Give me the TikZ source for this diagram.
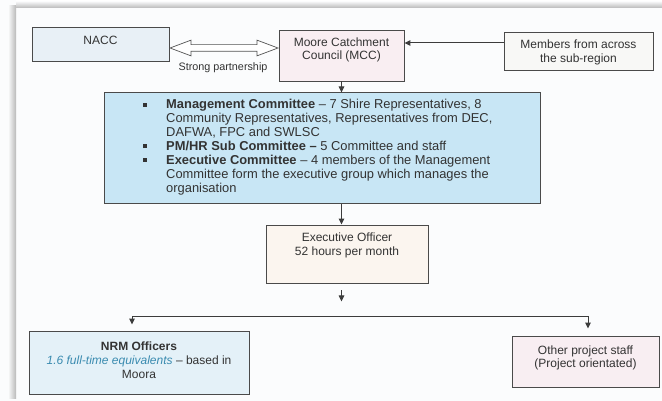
\documentclass[tikz,border=0pt]{standalone}
\usepackage{fontspec}
\setmainfont{Liberation Sans}
\usetikzlibrary{arrows.meta,shapes.arrows,calc}
\definecolor{paper}{HTML}{FBFCFD}
\definecolor{ink}{HTML}{333333}
\definecolor{boxline}{HTML}{4A4A4A}
\definecolor{lineclr}{HTML}{3C3C3C}
\definecolor{naccfill}{HTML}{E8F0F6}
\definecolor{mccfill}{HTML}{F9EEF2}
\definecolor{memfill}{HTML}{F8F8F6}
\definecolor{mgmtfill}{HTML}{C8E6F5}
\definecolor{execfill}{HTML}{FBF5EF}
\definecolor{nrmfill}{HTML}{E4F1F8}
\definecolor{otherfill}{HTML}{F8EEF2}
\definecolor{tealtext}{HTML}{3A8BB0}
\newcommand{\mybul}{\hspace{2pt}\rule[2.4pt]{4pt}{4pt}}
\begin{document}
\begin{tikzpicture}[x=1pt,y=-1pt,
  box/.style={draw=boxline, line width=0.9pt, inner sep=0pt},
  txt/.style={align=center, font=\fontsize{12}{14}\selectfont, text=ink, inner sep=0pt},
  arr/.style={draw=lineclr, line width=1pt, -{Triangle[length=6pt,width=5.5pt]}},
  plain/.style={draw=lineclr, line width=1pt},
  dblarr/.style={double arrow, draw=gray!65!black, fill=white, line width=0.7pt,
    inner xsep=0pt, inner ysep=3pt, minimum height=108pt,
    double arrow head extend=4.5pt, double arrow tip angle=41, double arrow head indent=0pt}
]
\useasboundingbox (0,0) rectangle (662,401);
\fill[paper] (0,0) rectangle (662,401);
% scanned page edge shadow
\shade[left color=paper, right color=gray!55] (8,6) rectangle (16,398);
\shade[top color=paper, bottom color=gray!55] (16,1) rectangle (662,8);

% boxes
\node[box, fill=naccfill, minimum width=137pt, minimum height=34pt] (nacc) at (100.5,44) {};
\node[txt] (nacct) at (100.5,40) {NACC};

\node[box, fill=mccfill, minimum width=125pt, minimum height=51pt] (mcc) at (341.5,55.5) {};
\node[txt, font=\fontsize{12}{13}\selectfont] (mcct) at (341.5,49.5) {Moore Catchment\\Council (MCC)};

\node[box, fill=memfill, minimum width=149pt, minimum height=38pt] (members) at (578.5,51) {};
\node[txt] (memt) at (578.5,52.5) {Members from across\\the sub-region};

\node[dblarr] (partner) at (224,48) {};
\node[txt, font=\fontsize{10.8}{13}\selectfont] (partnert) at (223,68) {Strong partnership};

\node[box, fill=mgmtfill, line width=1pt, minimum width=436pt, minimum height=111pt] (mgmt) at (322,148.5) {};
\node[anchor=base west, inner sep=0pt, text=ink, font=\fontsize{12.9}{13.85}\selectfont] (mgmtt) at (141,109)
{\begin{tabular}[t]{@{}p{25pt}@{}l@{}}
\mybul & \textbf{Management Committee} -- 7 Shire Representatives, 8\\
 & Community Representatives, Representatives from DEC,\\
 & DAFWA, FPC and SWLSC\\
\mybul & \textbf{PM/HR Sub Committee --} 5 Committee and staff\\
\mybul & \textbf{Executive Committee} -- 4 members of the Management\\
 & Committee form the executive group which manages the\\
 & organisation
\end{tabular}};

\node[box, fill=execfill, minimum width=162pt, minimum height=58pt] (exec) at (347,254) {};
\node[txt] (exect) at (347,245) {Executive Officer\\52 hours per month};

\node[box, fill=nrmfill, minimum width=220pt, minimum height=63pt] (nrm) at (139,362.5) {};
\node[txt] (nrmt) at (139,360) {\textbf{NRM Officers}\\{\color{tealtext}\itshape 1.6 full-time equivalents} -- based in\\Moora};

\node[box, fill=otherfill, minimum width=147pt, minimum height=51pt] (other) at (585.5,361.5) {};
\node[txt, font=\fontsize{12}{13}\selectfont] (othert) at (585.5,357.5) {Other project staff\\(Project orientated)};

% connectors
\coordinate (m1) at ([yshift=8pt]members.west);
\draw[arr] (m1) -- (m1 -| mcc.east);
\draw[arr] (mcc.south) -- (mcc.south |- mgmt.north);
\draw[arr] (mcc.south |- mgmt.south) -- (mcc.south |- exec.north);
\coordinate (eo1) at ([yshift=-7pt]exec.south -| mcc.south);
\draw[arr] (eo1) -- ++(0,11);
\coordinate (bl) at (132,316);
\coordinate (br) at (588,316);
\draw[plain] (bl) -- (br);
\draw[arr] (bl) -- ([yshift=6pt]nrm.north -| bl);
\draw[arr] (br) -- ([yshift=7pt]other.north -| br);
\end{tikzpicture}
\end{document}
